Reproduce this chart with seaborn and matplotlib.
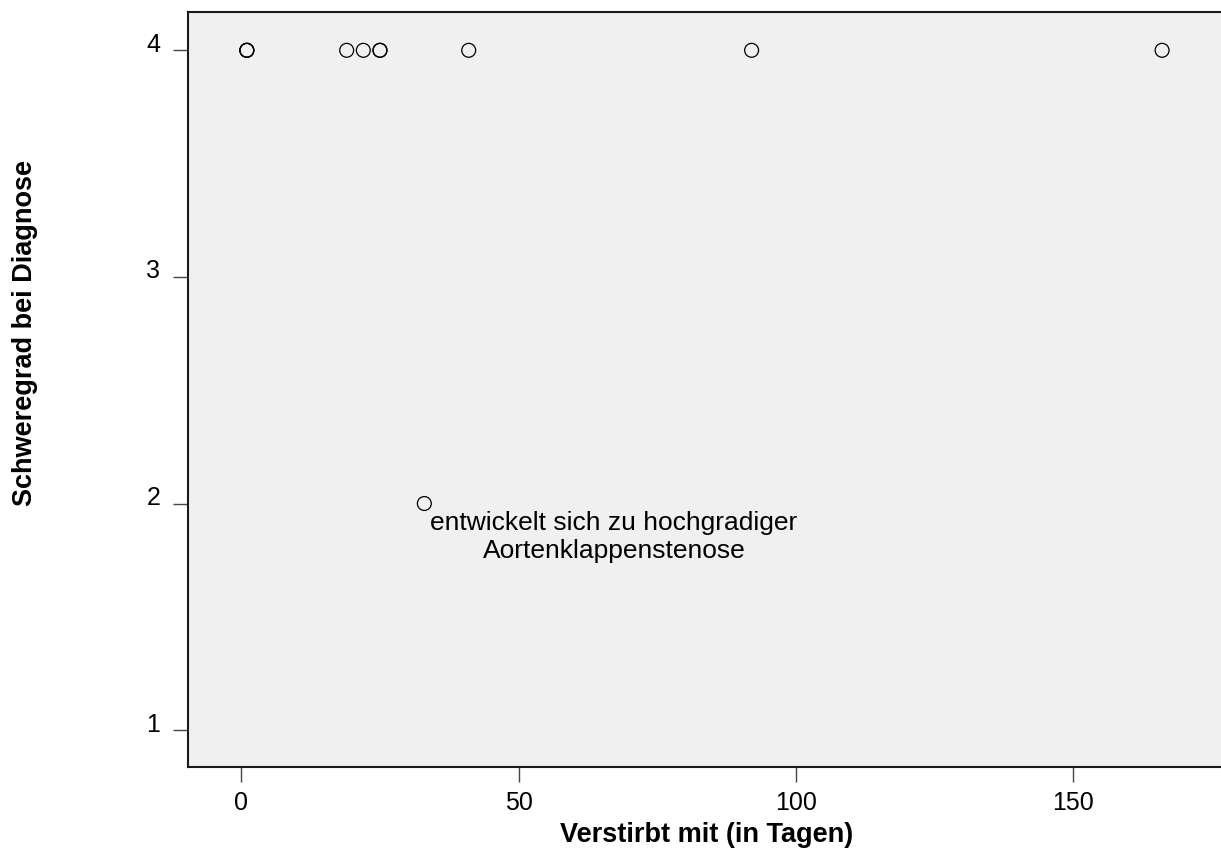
import matplotlib
matplotlib.use("Agg")
import matplotlib.pyplot as plt
import matplotlib.transforms as mtransforms
import seaborn as sns
import pandas as pd

days = [1, 1, 1, 19, 22, 25, 25, 41, 92, 166, 33]
severity = [4, 4, 4, 4, 4, 4, 4, 4, 4, 4, 2]
x_ticks = [0, 50, 100, 150]
y_ticks = [1, 2, 3, 4]
annotation = "entwickelt sich zu hochgradiger\nAortenklappenstenose"

df = pd.DataFrame({"days": days, "severity": severity})

sns.set_style("white")
plt.rcParams["font.family"] = ["Liberation Sans", "DejaVu Sans"]
plt.rcParams["text.color"] = "black"
plt.rcParams["axes.labelcolor"] = "black"
plt.rcParams["xtick.color"] = "black"
plt.rcParams["ytick.color"] = "black"

fig = plt.figure(figsize=(12.21, 8.5), dpi=100)
ax = fig.add_axes([0.154, 0.0976, 0.85, 0.888])
ax.set_facecolor("#f0f0f0")

sns.scatterplot(data=df, x="days", y="severity", ax=ax, marker="o", s=100,
                facecolor="none", edgecolor="black", linewidth=0.9)

ax.text(67.2, 1.965, annotation, ha="center", va="top", fontsize=19,
        linespacing=1.2, color="black")

ax.set_xlim(-9.6, 177.5)
ax.set_ylim(0.837, 4.168)
ax.set_xticks(x_ticks)
ax.set_yticks(y_ticks)
ax.tick_params(axis="both", direction="out", length=11, width=1, color="#444444",
               labelcolor="black", labelsize=18, left=True, bottom=True)
ax.tick_params(axis="x", pad=6)
ax.tick_params(axis="y", pad=9)
offset = mtransforms.ScaledTranslation(0, 8 / 100, fig.dpi_scale_trans)
for lbl in ax.get_yticklabels():
    lbl.set_transform(lbl.get_transform() + offset)
for s in ["left", "top", "bottom"]:
    ax.spines[s].set_visible(True)
    ax.spines[s].set_color("#1a1a1a")
    ax.spines[s].set_linewidth(1.5)
ax.spines["right"].set_visible(False)

ax.set_xlabel("Verstirbt mit (in Tagen)", fontsize=19.5, fontweight="bold", color="black")
ax.set_ylabel("Schweregrad bei Diagnose", fontsize=19.5, fontweight="bold", color="black")
ax.xaxis.set_label_coords(0.5, -0.0897)
ax.yaxis.set_label_coords(-0.157, 0.575)
ax.xaxis.label.set_va("center")
ax.yaxis.label.set_va("center")

fig.savefig("out.png", dpi=100)
